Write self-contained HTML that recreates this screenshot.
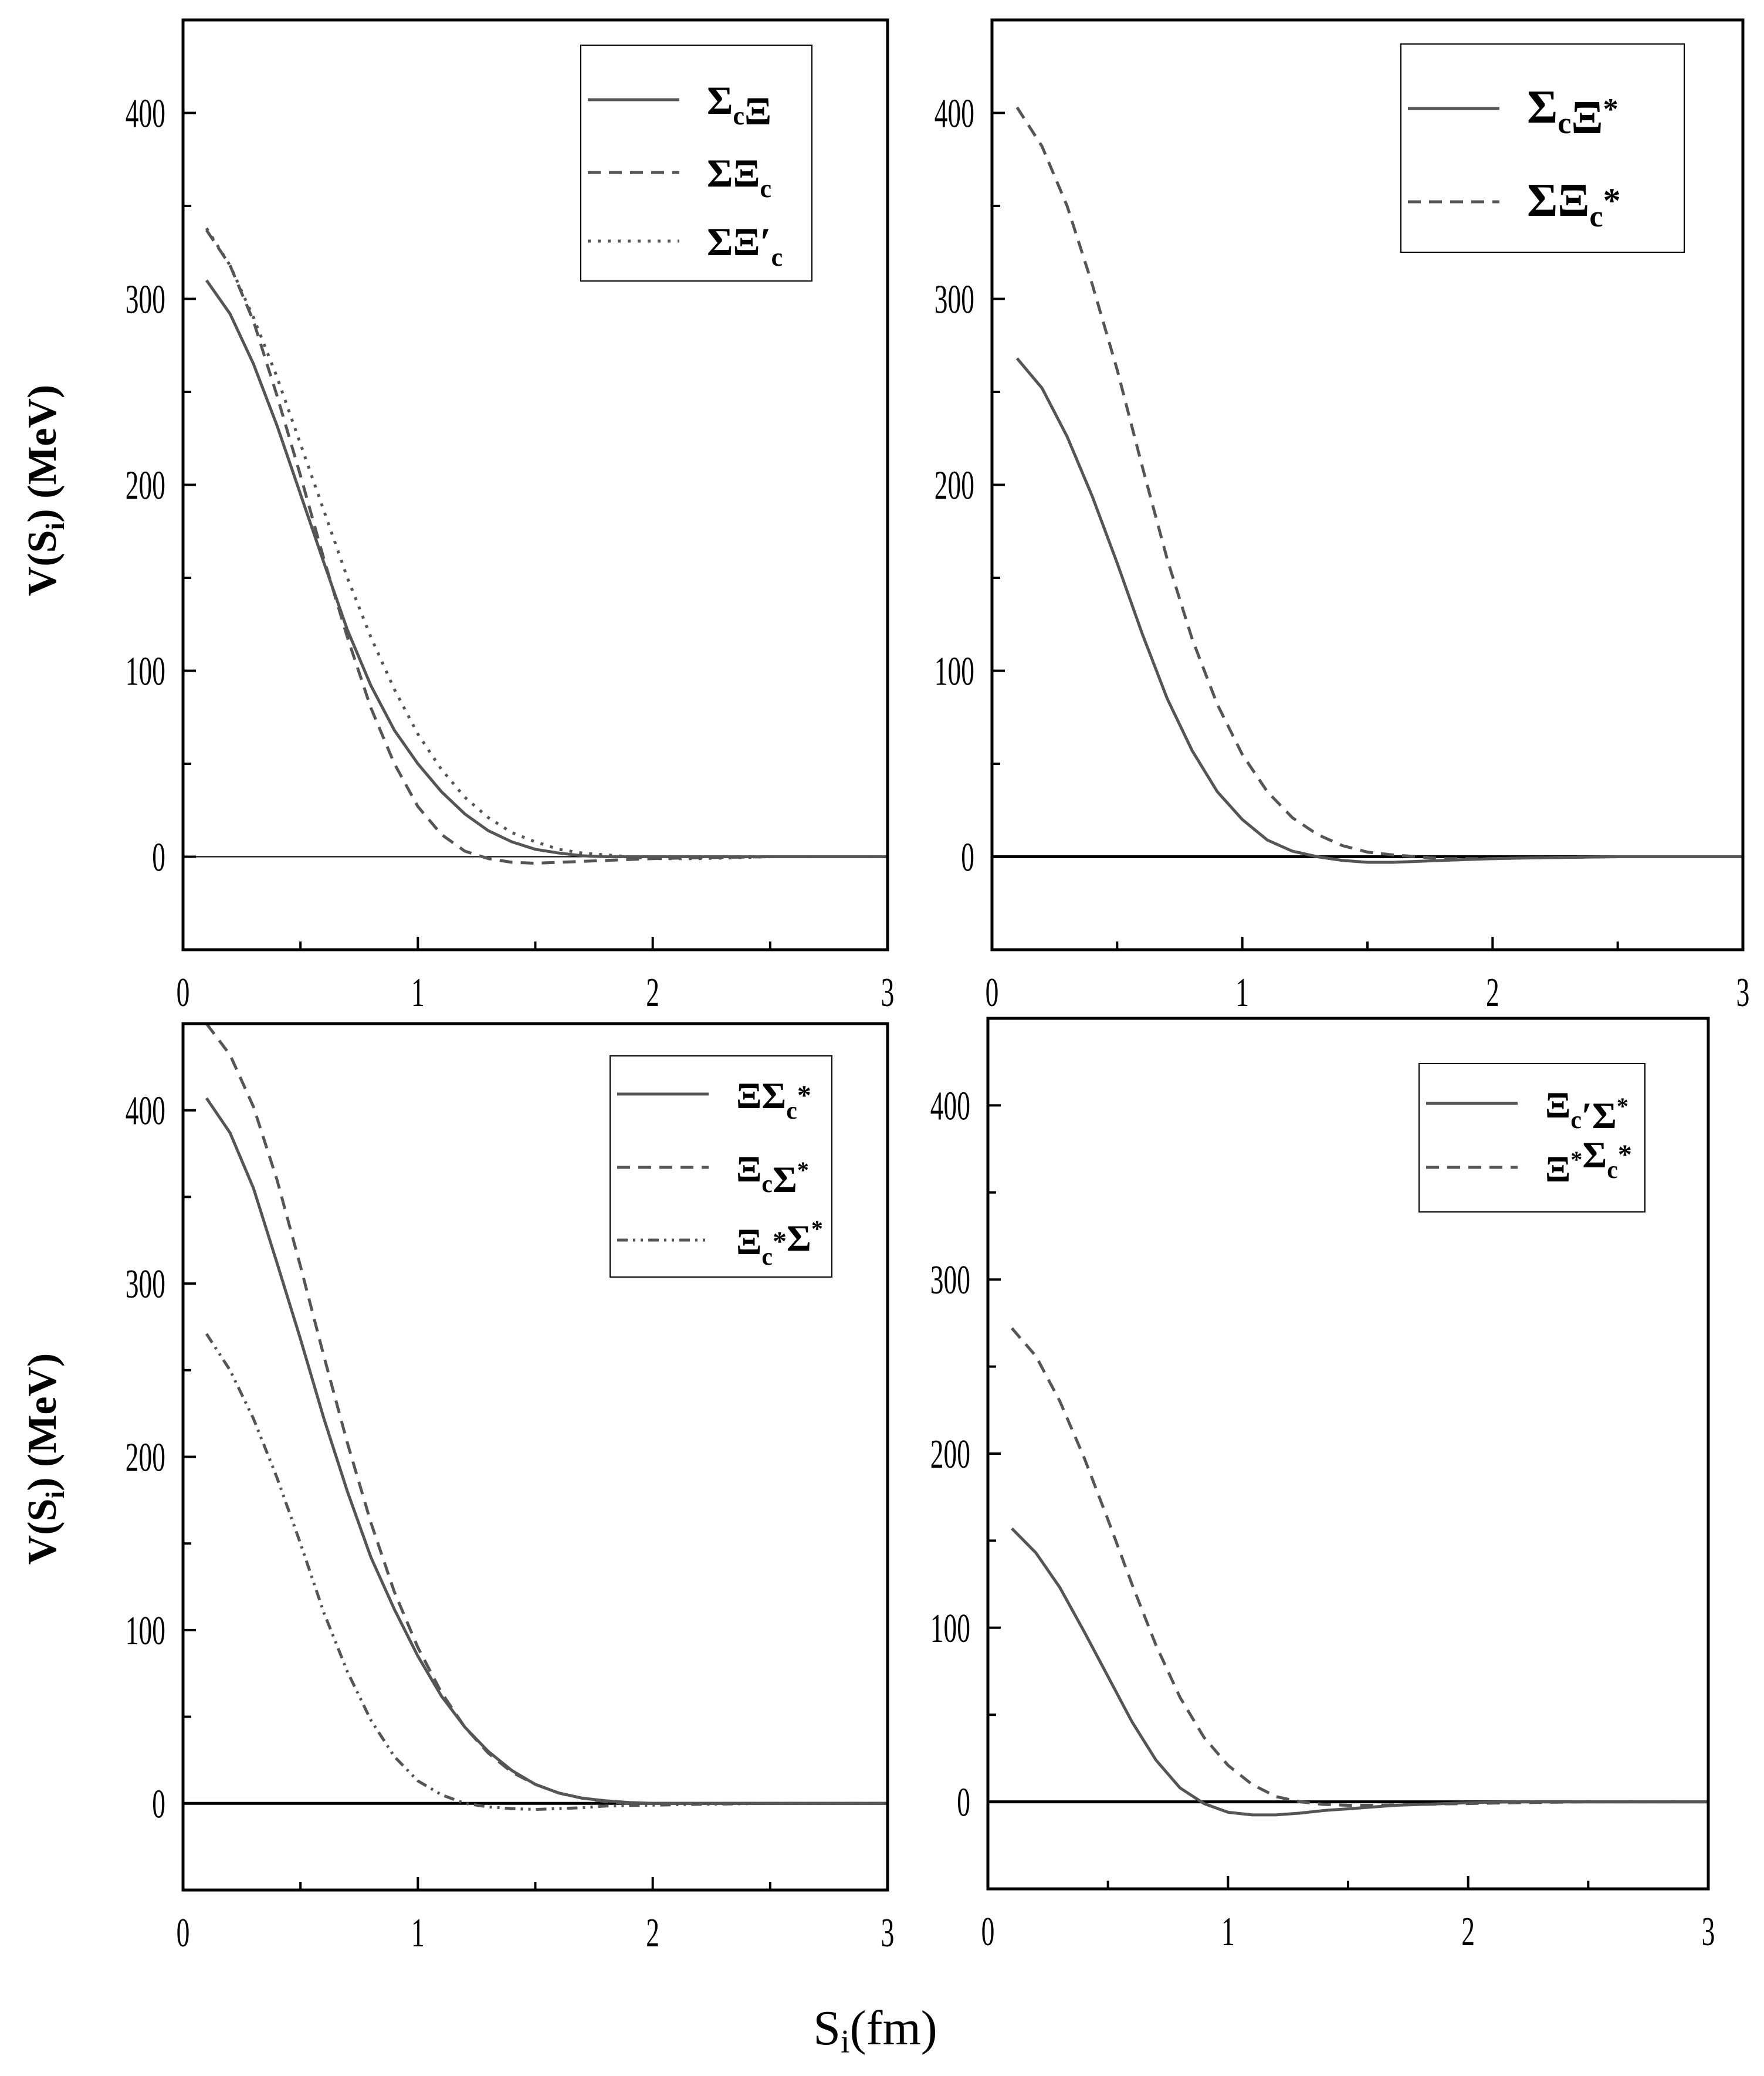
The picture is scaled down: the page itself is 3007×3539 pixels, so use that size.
<!DOCTYPE html>
<html><head><meta charset="utf-8">
<style>
html,body{margin:0;padding:0;background:#fff;}
svg{display:block;}
</style></head>
<body>
<svg id="fig" xmlns="http://www.w3.org/2000/svg" width="3007" height="3539" viewBox="0 0 3007 3539">
<rect x="0" y="0" width="3007" height="3539" fill="#fff"/>
<text transform="translate(95,836) rotate(-90)" text-anchor="middle" font-family="Liberation Serif, serif" font-weight="bold" font-size="70" fill="#000">V(S<tspan font-size="46" dy="14">i</tspan><tspan dy="-14">) (MeV)</tspan></text>
<text transform="translate(95,2487) rotate(-90)" text-anchor="middle" font-family="Liberation Serif, serif" font-weight="bold" font-size="70" fill="#000">V(S<tspan font-size="46" dy="14">i</tspan><tspan dy="-14">) (MeV)</tspan></text>
<text x="1492" y="3485" text-anchor="middle" font-family="Liberation Serif, serif" font-size="84" fill="#000">S<tspan font-size="56" dy="14">i</tspan><tspan dy="-14">(fm)</tspan></text>
</svg>
<script>
const xs = [0.1,0.2,0.3,0.4,0.5,0.6,0.7,0.8,0.9,1.0,1.1,1.2,1.3,1.4,1.5,1.6,1.7,1.8,1.9,2.0,2.2,2.5,3.0];
const tlSolid  = [310,292,265,232,195,158,122,92,68,50,35,23,14,8,4,2,0.5,0,0,0,0,0,0];
const tlDash   = [337,318,288,248,205,160,118,80,50,27,12,3,-1,-3,-3.5,-3,-2.5,-2,-1.5,-1,-0.5,0,0];
const tlDot    = [338,318,290,258,222,186,150,118,90,66,47,32,21,13,8,4,2,1,0,-1,-1,0,0];
const trSolid  = [268,252,226,194,158,120,85,57,35,20,9,3,0,-2,-3,-3,-2.5,-2,-1.5,-1,-0.5,0,0];
const trDash   = [403,382,350,308,262,210,160,117,82,55,35,21,12,6,2.5,1,0,-1,-1,-1,-0.5,0,0];
const blSolid  = [407,387,355,312,268,222,180,142,112,85,62,44,30,19,11,6,3,1.5,0.5,0,0,0,0];
const blDash   = [450,432,402,360,310,258,208,162,122,90,64,44,29,18,11,6,3,1,0,0,0,0,0];
const blDashDot= [271,250,222,188,150,110,76,48,27,13,5,0,-2,-3,-3.5,-3,-2.5,-1.5,-1.2,-1,-0.5,0,0];
const brSolid  = [157,143,123,98,72,46,24,8,-1,-6,-7.5,-7.5,-6.5,-5,-4,-3,-2,-1.5,-1,-0.5,0,0,0];
const brDash   = [272,256,230,198,162,125,90,60,37,21,10,3,0,-1.5,-2,-2,-1.8,-1.5,-1.2,-1,-0.5,0,0];
const xTicks = [0,1,2,3];
const yTicks = [0,100,200,300,400];

const NS='http://www.w3.org/2000/svg';
const svg=document.getElementById('fig');
function mk(tag,attrs,parent){const e=document.createElementNS(NS,tag);for(const k in attrs)e.setAttribute(k,attrs[k]);(parent||svg).appendChild(e);return e;}

const dashes={solid:'',dash:'22,14',dot:'5,12',dashdot:'18,9,4,9,4,9'};

function panel(p){
  const g=mk('g',{});
  
  
  const X=v=>p.x0+(v-0)/(3-0)*(p.x1-p.x0);
  const Y=v=>p.y1-(v-(-50))/(450-(-50))*(p.y1-p.y0);
  const z=mk('line',{x1:X(0),x2:X(3),y1:Y(0),y2:Y(0),stroke:'#000','stroke-width':p.zw},g);
  
  
  p.series.forEach(s=>{
    const d=xs.map((x,i)=>(i?'L':'M')+X(x).toFixed(1)+','+Y(s.data[i]).toFixed(1)).join(' ');
    const path=mk('path',{d:d,fill:'none',stroke:'#555','stroke-width':5,'stroke-dasharray':dashes[s.style]},g);
    
    
  });
  const fr=mk('rect',{x:p.x0,y:p.y0,width:p.x1-p.x0,height:p.y1-p.y0,fill:'none',stroke:'#000','stroke-width':5},g);
  
  
  for(let v=0;v<=3;v+=0.5){
    const major=Number.isInteger(v);
    mk('line',{x1:X(v),x2:X(v),y1:p.y1,y2:p.y1-(major?22:14),stroke:'#000','stroke-width':4},g);
  }
  xTicks.forEach(v=>{
    const t=mk('text',{transform:`translate(${X(v)},${p.y1+96}) scale(0.65,1)`,'text-anchor':'middle','font-family':'Liberation Serif, serif','font-size':70,fill:'#000'},g);
    t.textContent=v;
    
    
  });
  for(let v=-50;v<=450;v+=50){
    const major=v%100===0;
    mk('line',{x1:p.x0,x2:p.x0+(major?22:14),y1:Y(v),y2:Y(v),stroke:'#000','stroke-width':4},g);
  }
  yTicks.forEach(v=>{
    const t=mk('text',{transform:`translate(${p.x0-30},${Y(v)+24}) scale(0.65,1)`,'text-anchor':'end','font-family':'Liberation Serif, serif','font-size':70,fill:'#000'},g);
    t.textContent=v;
    
    
  });
  const L=p.legend;
  const lg=mk('g',{},g);
  
  
  mk('rect',{x:L.x,y:L.y,width:L.w,height:L.h,fill:'#fff',stroke:'#000','stroke-width':2},lg);
  p.series.forEach((s,i)=>{
    const yy=L.rows[i];
    const ent=mk('g',{},lg);
    
    
    mk('line',{x1:L.x+12,x2:L.x+168,y1:yy,y2:yy,stroke:'#555','stroke-width':5,'stroke-dasharray':dashes[s.style]},ent);
    const t=mk('text',{x:L.x+215,y:yy+24,'font-family':'Liberation Serif, serif','font-weight':'bold','font-size':L.fs,fill:'#000'},ent);
    t.innerHTML=s.label;
  });
}
const sub=(c,fs)=>`<tspan font-size="${fs}" dy="18">${c}</tspan><tspan dy="-18"></tspan>`;
const sup=(c,fs)=>`<tspan font-size="${fs}" dy="-24">${c}</tspan><tspan dy="24"></tspan>`;

panel({name:'panel-top-left',x0:312,x1:1513,y0:34,y1:1619,zw:2,
  series:[{id:'line-sigmac-xi',data:tlSolid,style:'solid',label:'Σ'+sub('c',44)+'Ξ'},
          {id:'line-sigma-xic',data:tlDash,style:'dash',label:'ΣΞ'+sub('c',44)},
          {id:'line-sigma-xic-prime',data:tlDot,style:'dot',label:'ΣΞ′'+sub('c',44)}],
  legend:{x:990,y:77,w:394,h:402,rows:[170,294,411],fs:68}});
panel({name:'panel-top-right',x0:1691,x1:2971,y0:34,y1:1619,zw:5,
  series:[{id:'line-sigmac-xistar',data:trSolid,style:'solid',label:'Σ'+sub('c',52)+'Ξ'+sup('*',52)},
          {id:'line-sigma-xicstar',data:trDash,style:'dash',label:'ΣΞ'+sub('c',52)+sup('*',60)}],
  legend:{x:2388,y:75,w:483,h:355,rows:[185,344],fs:80}});
panel({name:'panel-bottom-left',x0:312,x1:1513,y0:1745,y1:3222,zw:5,
  series:[{id:'line-xi-sigmacstar',data:blSolid,style:'solid',label:'ΞΣ'+sub('c',42)+sup('*',48)},
          {id:'line-xic-sigmastar',data:blDash,style:'dash',label:'Ξ'+sub('c',42)+'Σ'+sup('*',40)},
          {id:'line-xicstar-sigmastar',data:blDashDot,style:'dashdot',label:'Ξ'+sub('c',42)+sup('*',48)+'Σ'+sup('*',40)}],
  legend:{x:1040,y:1800,w:378,h:377,rows:[1865,1990,2114],fs:64}});
panel({name:'panel-bottom-right',x0:1684,x1:2912,y0:1736,y1:3220,zw:5,
  series:[{id:'line-xicprime-sigmastar',data:brSolid,style:'solid',label:'Ξ'+sub('c',42)+'′Σ'+sup('*',40)},
          {id:'line-xistar-sigmacstar',data:brDash,style:'dash',label:'Ξ'+sup('*',40)+'Σ'+sub('c',42)+sup('*',48)}],
  legend:{x:2419,y:1813,w:385,h:253,rows:[1881,1990],fs:64}});
</script>
</body></html>
